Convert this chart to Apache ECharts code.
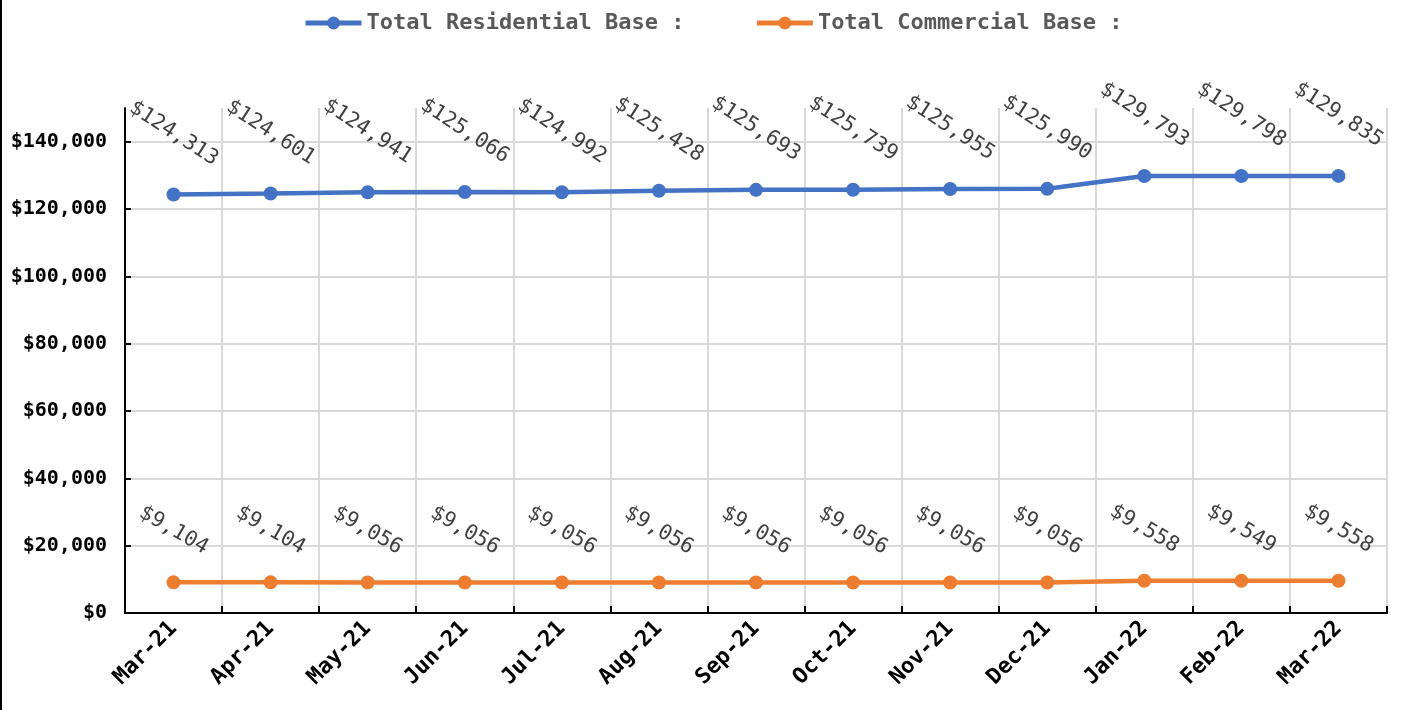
<!DOCTYPE html>
<html>
  <head>
    <meta charset="utf-8">
    <title>Residential / Commercial Base</title>
    <script src="https://cdn.jsdelivr.net/npm/echarts@6/dist/echarts.min.js"></script>
    <style media="screen">
    html, body { margin: 0; padding: 0; background: #fff; }
    #chart { width: 1402px; height: 710px; }
    </style>
  </head>
  <body>
    <div id="chart"></div>
    <script type="text/javascript">
      var months = ['Mar-21','Apr-21','May-21','Jun-21','Jul-21','Aug-21','Sep-21','Oct-21','Nov-21','Dec-21','Jan-22','Feb-22','Mar-22'];
      var residential = [124313,124601,124941,125066,124992,125428,125693,125739,125955,125990,129793,129798,129835];
      var commercial = [9104,9104,9056,9056,9056,9056,9056,9056,9056,9056,9558,9549,9558];

      var mono = '"DejaVu Sans Mono", "Liberation Mono", monospace';

      function money(v) {
        return '$' + String(Math.round(v)).replace(/\B(?=(\d{3})+(?!\d))/g, ',');
      }

      var chart = echarts.init(document.getElementById('chart'));

      var option = {
        animation: false,
        backgroundColor: '#fff',
        legend: {
          top: 7,
          left: 298,
          itemWidth: 56,
          itemHeight: 16,
          itemGap: 70,
          lineStyle: { width: 5 },
          textStyle: { fontFamily: mono, fontWeight: 'bold', fontSize: 22, color: '#595959' },
          data: ['Total Residential Base :', 'Total Commercial Base :']
        },
        grid: { left: 125, right: 15, top: 108, bottom: 97, containLabel: false },
        graphic: [{
          type: 'rect',
          shape: { x: 0, y: 0, width: 2, height: 710 },
          style: { fill: '#000' }
        }],
        xAxis: {
          type: 'category',
          data: months,
          boundaryGap: true,
          axisLine: { lineStyle: { color: '#000', width: 2 } },
          axisTick: { show: true, inside: true, length: 7, lineStyle: { color: '#000', width: 2 } },
          splitLine: { show: true, lineStyle: { color: '#d9d9d9', width: 2 } },
          axisLabel: {
            rotate: 45, margin: 12, interval: 0,
            fontFamily: mono, fontWeight: 'bold', fontSize: 22, color: '#000'
          }
        },
        yAxis: {
          type: 'value',
          min: 0, max: 150000, interval: 20000,
          axisLine: { show: true, lineStyle: { color: '#000', width: 2 } },
          axisTick: { show: true, inside: true, length: 6, lineStyle: { color: '#000', width: 2 } },
          splitLine: { show: true, showMaxLine: false, lineStyle: { color: '#d9d9d9', width: 2 } },
          axisLabel: {
            showMaxLabel: false, margin: 18,
            fontFamily: mono, fontWeight: 'bold', fontSize: 20, color: '#000',
            formatter: money
          }
        },
        series: [{
          name: 'Total Residential Base :',
          type: 'line',
          data: residential,
          symbol: 'circle', symbolSize: 14,
          itemStyle: { color: '#4472C4' },
          lineStyle: { color: '#4472C4', width: 4.5 },
          label: {
            show: true, position: 'top', distance: 54, rotate: -33,
            align: 'center', verticalAlign: 'middle',
            fontFamily: mono, fontSize: 21, color: '#404040',
            formatter: function (p) { return money(p.value); }
          }
        }, {
          name: 'Total Commercial Base :',
          type: 'line',
          data: commercial,
          symbol: 'circle', symbolSize: 14,
          itemStyle: { color: '#ED7D31' },
          lineStyle: { color: '#ED7D31', width: 4.5 },
          label: {
            show: true, position: 'top', distance: 45, rotate: -30,
            align: 'center', verticalAlign: 'middle',
            fontFamily: mono, fontSize: 21, color: '#404040',
            formatter: function (p) { return money(p.value); }
          }
        }]
      };
      chart.setOption(option);
    </script>
  </body>
</html>
